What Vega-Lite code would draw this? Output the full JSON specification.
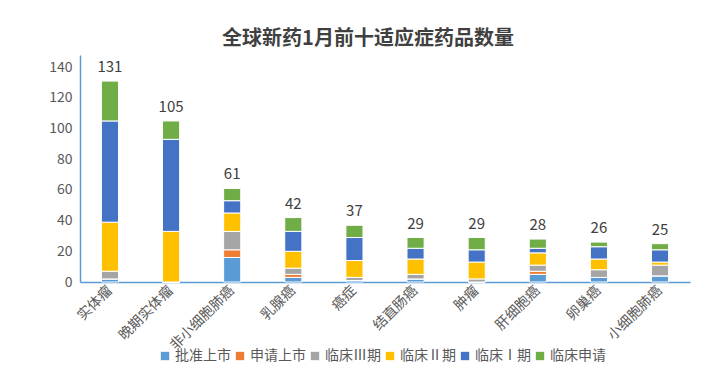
{
  "$schema": "https://vega.github.io/schema/vega-lite/v6.json",
  "width": 610,
  "height": 227,
  "autosize": "none",
  "padding": {"left": 80, "top": 55, "right": 27, "bottom": 97},
  "background": "white",
  "config": {
    "font": "Noto Sans CJK SC",
    "view": {"stroke": null}
  },
  "title": {
    "text": "全球新药1月前十适应症药品数量",
    "fontSize": 20,
    "fontWeight": "bold",
    "color": "#404040",
    "anchor": "middle",
    "dx": -17,
    "offset": 6
  },
  "data": {
    "values": [
      {"cat": "实体瘤", "stage": "批准上市", "o": 1, "n": 2},
      {"cat": "实体瘤", "stage": "申请上市", "o": 2, "n": 0},
      {"cat": "实体瘤", "stage": "临床Ⅲ期", "o": 3, "n": 5},
      {"cat": "实体瘤", "stage": "临床Ⅱ期", "o": 4, "n": 32},
      {"cat": "实体瘤", "stage": "临床Ⅰ期", "o": 5, "n": 66},
      {"cat": "实体瘤", "stage": "临床申请", "o": 6, "n": 26},
      {"cat": "晚期实体瘤", "stage": "批准上市", "o": 1, "n": 0},
      {"cat": "晚期实体瘤", "stage": "申请上市", "o": 2, "n": 0},
      {"cat": "晚期实体瘤", "stage": "临床Ⅲ期", "o": 3, "n": 0},
      {"cat": "晚期实体瘤", "stage": "临床Ⅱ期", "o": 4, "n": 33},
      {"cat": "晚期实体瘤", "stage": "临床Ⅰ期", "o": 5, "n": 60},
      {"cat": "晚期实体瘤", "stage": "临床申请", "o": 6, "n": 12},
      {"cat": "非小细胞肺癌", "stage": "批准上市", "o": 1, "n": 16},
      {"cat": "非小细胞肺癌", "stage": "申请上市", "o": 2, "n": 5},
      {"cat": "非小细胞肺癌", "stage": "临床Ⅲ期", "o": 3, "n": 12},
      {"cat": "非小细胞肺癌", "stage": "临床Ⅱ期", "o": 4, "n": 12},
      {"cat": "非小细胞肺癌", "stage": "临床Ⅰ期", "o": 5, "n": 8},
      {"cat": "非小细胞肺癌", "stage": "临床申请", "o": 6, "n": 8},
      {"cat": "乳腺癌", "stage": "批准上市", "o": 1, "n": 3},
      {"cat": "乳腺癌", "stage": "申请上市", "o": 2, "n": 2},
      {"cat": "乳腺癌", "stage": "临床Ⅲ期", "o": 3, "n": 4},
      {"cat": "乳腺癌", "stage": "临床Ⅱ期", "o": 4, "n": 11},
      {"cat": "乳腺癌", "stage": "临床Ⅰ期", "o": 5, "n": 13},
      {"cat": "乳腺癌", "stage": "临床申请", "o": 6, "n": 9},
      {"cat": "癌症", "stage": "批准上市", "o": 1, "n": 1},
      {"cat": "癌症", "stage": "申请上市", "o": 2, "n": 0},
      {"cat": "癌症", "stage": "临床Ⅲ期", "o": 3, "n": 2},
      {"cat": "癌症", "stage": "临床Ⅱ期", "o": 4, "n": 11},
      {"cat": "癌症", "stage": "临床Ⅰ期", "o": 5, "n": 15},
      {"cat": "癌症", "stage": "临床申请", "o": 6, "n": 8},
      {"cat": "结直肠癌", "stage": "批准上市", "o": 1, "n": 2},
      {"cat": "结直肠癌", "stage": "申请上市", "o": 2, "n": 0},
      {"cat": "结直肠癌", "stage": "临床Ⅲ期", "o": 3, "n": 3},
      {"cat": "结直肠癌", "stage": "临床Ⅱ期", "o": 4, "n": 10},
      {"cat": "结直肠癌", "stage": "临床Ⅰ期", "o": 5, "n": 7},
      {"cat": "结直肠癌", "stage": "临床申请", "o": 6, "n": 7},
      {"cat": "肿瘤", "stage": "批准上市", "o": 1, "n": 0},
      {"cat": "肿瘤", "stage": "申请上市", "o": 2, "n": 0},
      {"cat": "肿瘤", "stage": "临床Ⅲ期", "o": 3, "n": 2},
      {"cat": "肿瘤", "stage": "临床Ⅱ期", "o": 4, "n": 11},
      {"cat": "肿瘤", "stage": "临床Ⅰ期", "o": 5, "n": 8},
      {"cat": "肿瘤", "stage": "临床申请", "o": 6, "n": 8},
      {"cat": "肝细胞癌", "stage": "批准上市", "o": 1, "n": 5},
      {"cat": "肝细胞癌", "stage": "申请上市", "o": 2, "n": 2},
      {"cat": "肝细胞癌", "stage": "临床Ⅲ期", "o": 3, "n": 4},
      {"cat": "肝细胞癌", "stage": "临床Ⅱ期", "o": 4, "n": 8},
      {"cat": "肝细胞癌", "stage": "临床Ⅰ期", "o": 5, "n": 3},
      {"cat": "肝细胞癌", "stage": "临床申请", "o": 6, "n": 6},
      {"cat": "卵巢癌", "stage": "批准上市", "o": 1, "n": 3},
      {"cat": "卵巢癌", "stage": "申请上市", "o": 2, "n": 0},
      {"cat": "卵巢癌", "stage": "临床Ⅲ期", "o": 3, "n": 5},
      {"cat": "卵巢癌", "stage": "临床Ⅱ期", "o": 4, "n": 7},
      {"cat": "卵巢癌", "stage": "临床Ⅰ期", "o": 5, "n": 8},
      {"cat": "卵巢癌", "stage": "临床申请", "o": 6, "n": 3},
      {"cat": "小细胞肺癌", "stage": "批准上市", "o": 1, "n": 4},
      {"cat": "小细胞肺癌", "stage": "申请上市", "o": 2, "n": 0},
      {"cat": "小细胞肺癌", "stage": "临床Ⅲ期", "o": 3, "n": 7},
      {"cat": "小细胞肺癌", "stage": "临床Ⅱ期", "o": 4, "n": 2},
      {"cat": "小细胞肺癌", "stage": "临床Ⅰ期", "o": 5, "n": 8},
      {"cat": "小细胞肺癌", "stage": "临床申请", "o": 6, "n": 4}
    ]
  },
  "encoding": {
    "x": {
      "field": "cat",
      "type": "nominal",
      "sort": null,
      "scale": {"paddingInner": 0.72, "paddingOuter": 0.35},
      "axis": {
        "title": null,
        "labelAngle": -45,
        "labelAlign": "right",
        "labelBaseline": "middle",
        "labelFontSize": 14,
        "labelColor": "#595959",
        "labelPadding": 6,
        "labelOverlap": false,
        "ticks": false,
        "domainColor": "#5B9BD5",
        "domainWidth": 1.5
      }
    }
  },
  "layer": [
    {
      "mark": {"type": "bar", "stroke": "white", "strokeWidth": 1},
      "encoding": {
        "y": {
          "field": "n",
          "type": "quantitative",
          "stack": "zero",
          "scale": {"domain": [0, 148], "nice": false},
          "axis": {
            "title": null,
            "values": [0, 20, 40, 60, 80, 100, 120, 140],
            "grid": false,
            "ticks": false,
            "labelOverlap": false,
            "labelFontSize": 14,
            "labelColor": "#595959",
            "labelPadding": 8,
            "domainColor": "#5B9BD5",
            "domainWidth": 1.5
          }
        },
        "color": {
          "field": "stage",
          "type": "nominal",
          "scale": {
            "domain": ["批准上市", "申请上市", "临床Ⅲ期", "临床Ⅱ期", "临床Ⅰ期", "临床申请"],
            "range": ["#5B9BD5", "#ED7D31", "#A5A5A5", "#FFC000", "#4472C4", "#70AD47"]
          },
          "legend": {
            "title": null,
            "orient": "none",
            "direction": "horizontal",
            "legendX": 78,
            "legendY": 294,
            "symbolType": "square",
            "symbolSize": 70,
            "symbolStrokeWidth": 0,
            "labelFontSize": 14,
            "labelColor": "#595959",
            "columnPadding": 2,
            "labelOffset": 3
          }
        },
        "order": {"field": "o", "type": "quantitative"}
      }
    },
    {
      "transform": [
        {"aggregate": [{"op": "sum", "field": "n", "as": "total"}], "groupby": ["cat"]}
      ],
      "mark": {"type": "text", "dy": -14, "fontSize": 15, "color": "#404040"},
      "encoding": {
        "y": {
          "field": "total",
          "type": "quantitative",
          "axis": {
            "title": null,
            "values": [0, 20, 40, 60, 80, 100, 120, 140],
            "grid": false,
            "ticks": false,
            "labelOverlap": false,
            "labelFontSize": 14,
            "labelColor": "#595959",
            "labelPadding": 8,
            "domainColor": "#5B9BD5",
            "domainWidth": 1.5
          }
        },
        "text": {"field": "total", "type": "quantitative"}
      }
    }
  ]
}
